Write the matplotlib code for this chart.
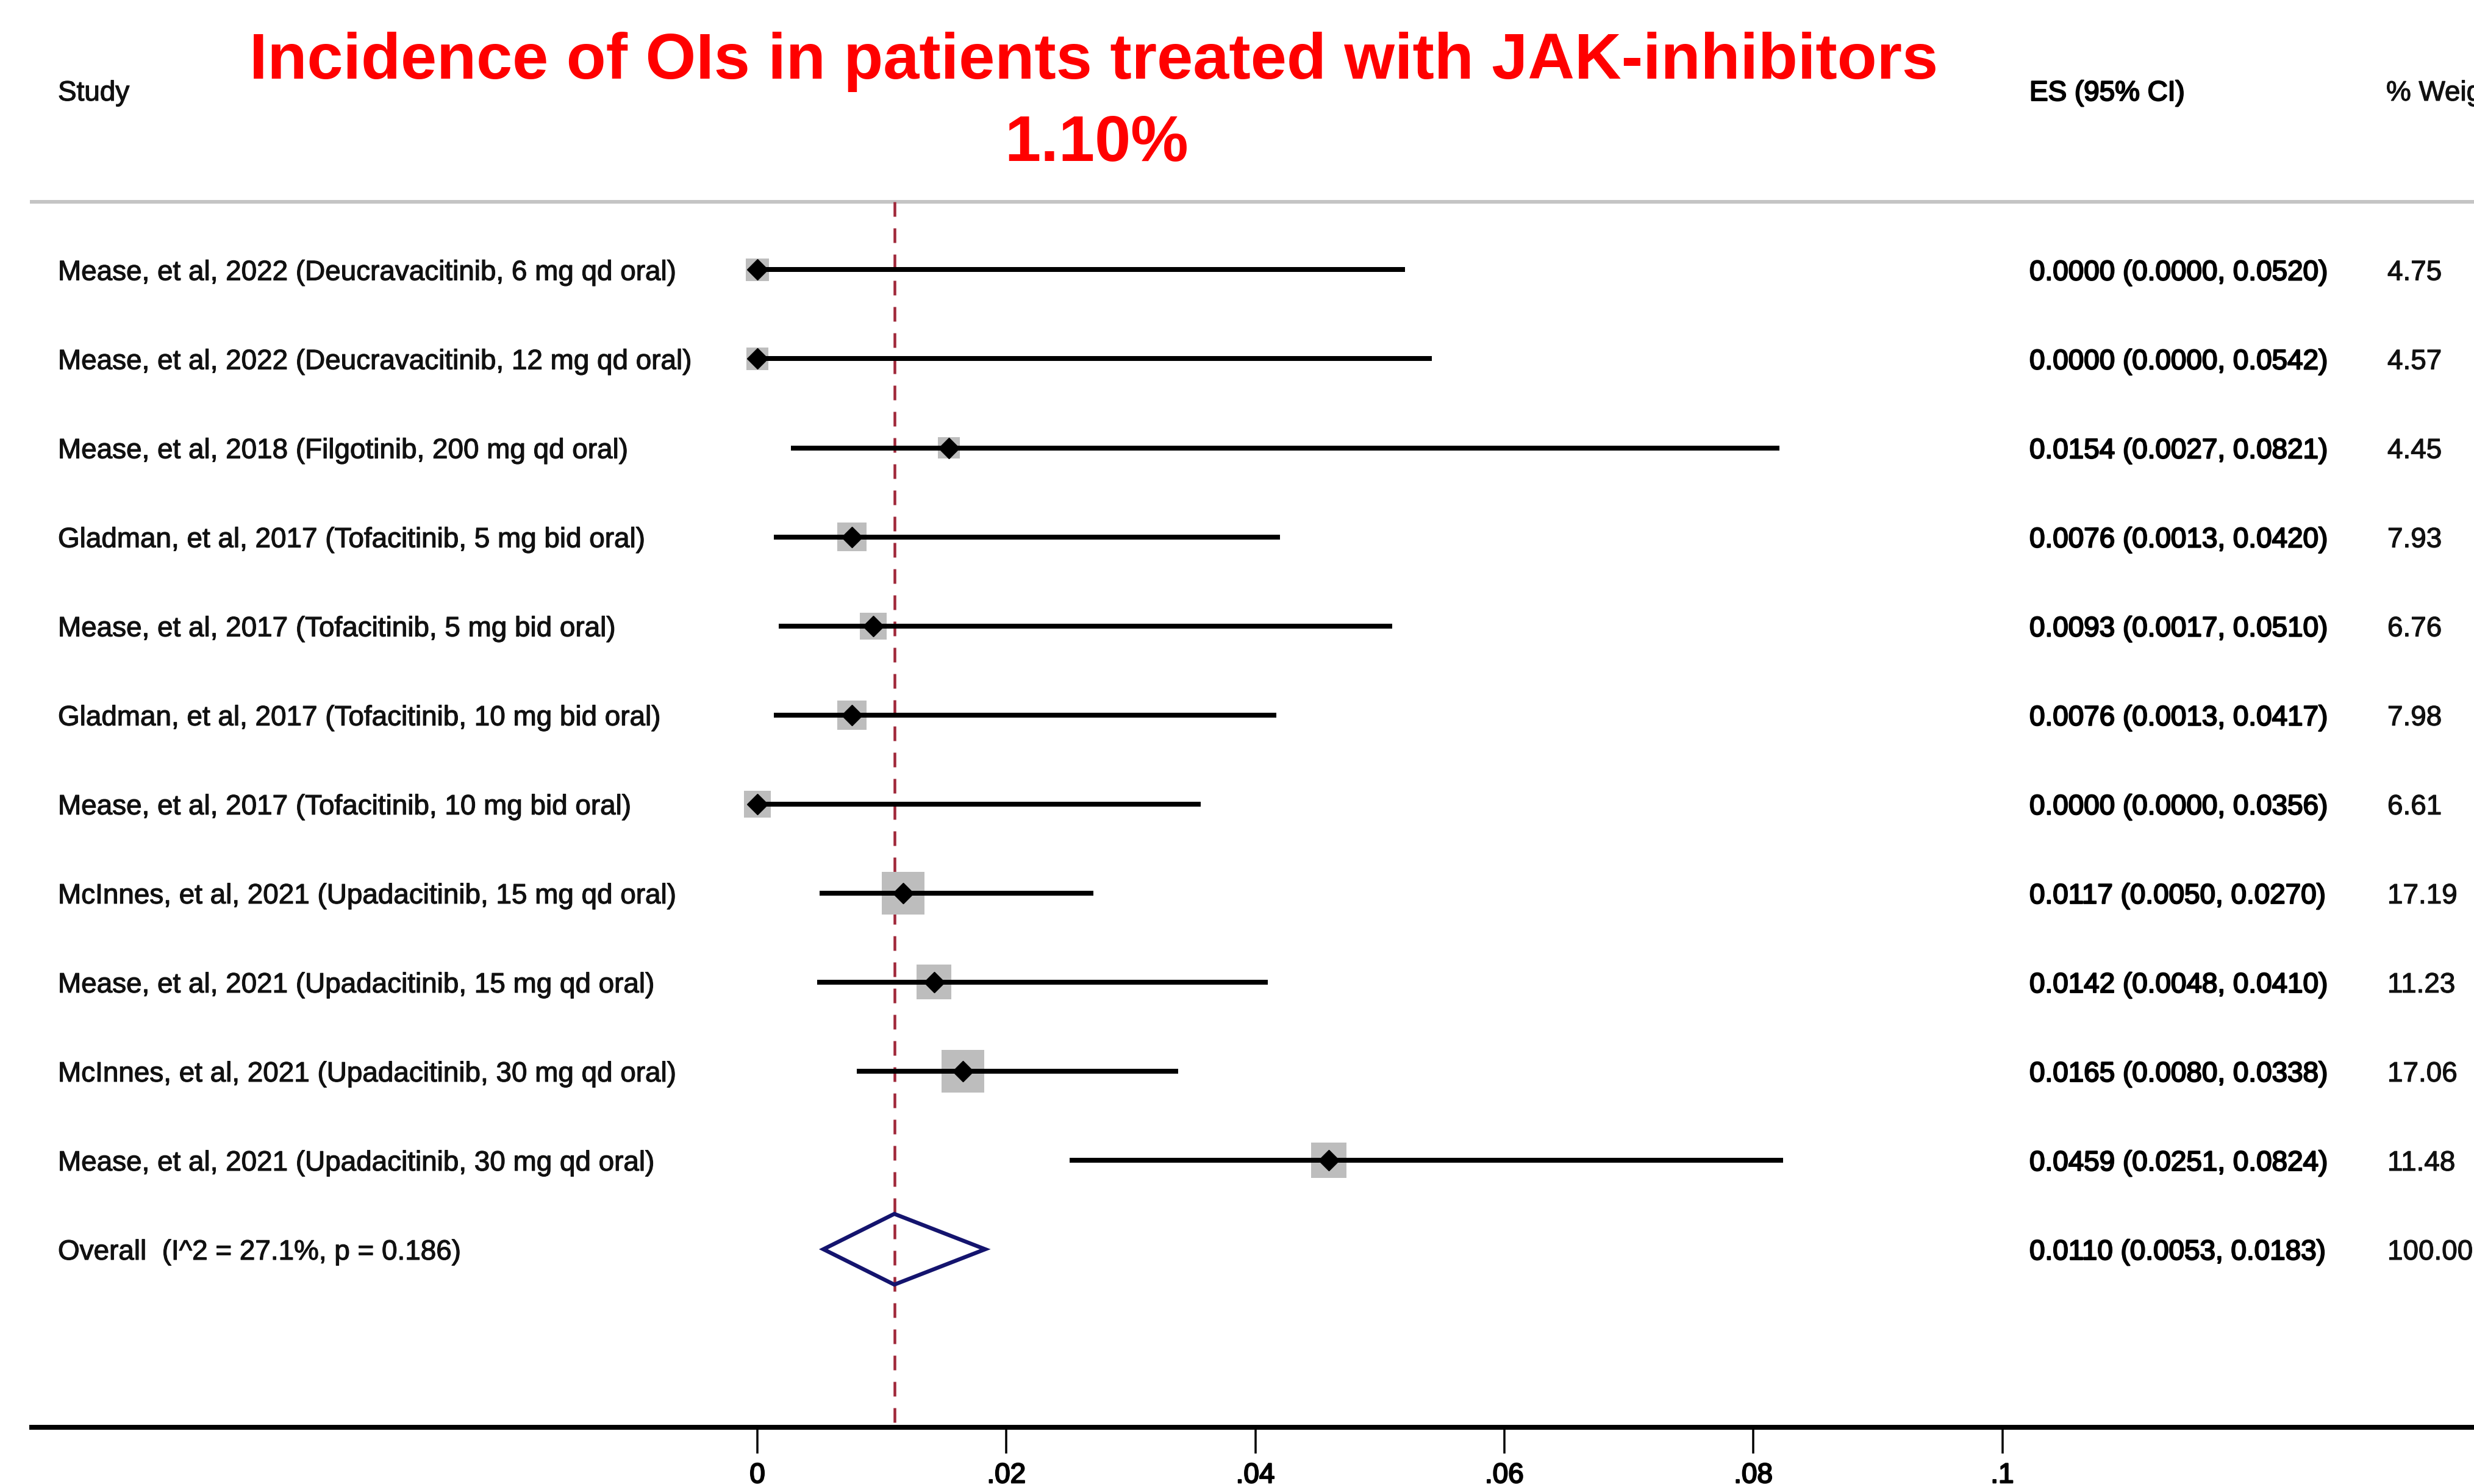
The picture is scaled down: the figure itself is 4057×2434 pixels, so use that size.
import numpy as np
import matplotlib
matplotlib.use('Agg')
import matplotlib.pyplot as plt
import matplotlib.patheffects as pe
from matplotlib.patches import Polygon

plt.rcParams['font.family'] = ['Liberation Sans', 'DejaVu Sans']

# Study data
studies = [
    'Mease, et al, 2022 (Deucravacitinib, 6 mg qd oral)',
    'Mease, et al, 2022 (Deucravacitinib, 12 mg qd oral)',
    'Mease, et al, 2018 (Filgotinib, 200 mg qd oral)',
    'Gladman, et al, 2017 (Tofacitinib, 5 mg bid oral)',
    'Mease, et al, 2017 (Tofacitinib, 5 mg bid oral)',
    'Gladman, et al, 2017 (Tofacitinib, 10 mg bid oral)',
    'Mease, et al, 2017 (Tofacitinib, 10 mg bid oral)',
    'McInnes, et al, 2021 (Upadacitinib, 15 mg qd oral)',
    'Mease, et al, 2021 (Upadacitinib, 15 mg qd oral)',
    'McInnes, et al, 2021 (Upadacitinib, 30 mg qd oral)',
    'Mease, et al, 2021 (Upadacitinib, 30 mg qd oral)',
]
es = [0.0000, 0.0000, 0.0154, 0.0076, 0.0093, 0.0076, 0.0000, 0.0117, 0.0142, 0.0165, 0.0459]
ci_low = [0.0000, 0.0000, 0.0027, 0.0013, 0.0017, 0.0013, 0.0000, 0.0050, 0.0048, 0.0080, 0.0251]
ci_high = [0.0520, 0.0542, 0.0821, 0.0420, 0.0510, 0.0417, 0.0356, 0.0270, 0.0410, 0.0338, 0.0824]
weights = [4.75, 4.57, 4.45, 7.93, 6.76, 7.98, 6.61, 17.19, 11.23, 17.06, 11.48]

overall_label = 'Overall  (I^2 = 27.1%, p = 0.186)'
overall_es = 0.0110
overall_low = 0.0053
overall_high = 0.0183
overall_weight = 100.00

tick_values = [0, 0.02, 0.04, 0.06, 0.08, 0.1]
tick_labels = ['0', '.02', '.04', '.06', '.08', '.1']

title_line1 = 'Incidence of OIs in patients treated with JAK-inhibitors'
title_line2 = '1.10%'

# Layout (pixels in a 4057x2434 canvas)
W, H, DPI = 4057, 2434, 100
x0_px = 1242.0          # where ES = 0 sits
px_per_unit = 20415.0   # pixels per unit of ES
row0_px = 442.4         # centre of first row
row_px = 146.05         # row spacing
pt = 72.0 / DPI         # points per pixel

fig = plt.figure(figsize=(W / DPI, H / DPI), dpi=DPI)
ax = fig.add_axes([0, 0, 1, 1])
ax.set_xlim(-x0_px / px_per_unit, (W - x0_px) / px_per_unit)
ax.set_ylim((H - row0_px) / row_px, -row0_px / row_px)

n = len(studies)
rows = np.arange(n)
overall_row = n
axis_row = n + 2
header_row = -0.763
left_frac = 52.0 / W

# slight stroke so the text has the heavier look of the original
soft = [pe.withStroke(linewidth=0.9, foreground='#111111')]
heavy = [pe.withStroke(linewidth=1.6, foreground='black')]

# Header separator and dashed overall line
ax.axhline(header_row, xmin=left_frac, xmax=1, color='#c4c4c4', lw=6 * pt, zorder=1)
ax.plot([overall_es, overall_es], [header_row, axis_row], color='#a0283a', lw=4.5 * pt,
        dashes=(24 / 4.5, 19 / 4.5), zorder=2)

# Weight boxes, CI lines and point estimates
box_side = 17.0 * np.sqrt(weights) * pt
ax.scatter(es, rows, s=box_side ** 2, marker='s', color='#bdbdbd', linewidths=0, zorder=3)
ax.hlines(rows, ci_low, ci_high, color='black', lw=8 * pt, zorder=4)
ax.plot(es, rows, linestyle='none', marker='D', markersize=17, color='black', zorder=5)

# Overall diamond
half_h = 58.0 / row_px
diamond = Polygon([(overall_low, overall_row), (overall_es, overall_row - half_h),
                   (overall_high, overall_row), (overall_es, overall_row + half_h)],
                  closed=True, fill=False, edgecolor='#14146e', lw=6.5 * pt, zorder=5)
ax.add_patch(diamond)

# Text columns
trans = ax.get_yaxis_transform()
fs = 33
base = 17.0 / row_px
label_x, es_x, w_x = 95.0 / W, 3328.0 / W, 3915.0 / W
for r, name, e, lo, hi, w in zip(rows, studies, es, ci_low, ci_high, weights):
    ax.text(label_x, r + base, name, transform=trans, fontsize=fs, va='baseline',
            color='#111111', path_effects=soft)
    ax.text(es_x, r + base, f'{e:.4f} ({lo:.4f}, {hi:.4f})', transform=trans, fontsize=fs,
            va='baseline', color='black', path_effects=heavy)
    ax.text(w_x, r + base, f'{w:.2f}', transform=trans, fontsize=fs, va='baseline',
            color='#111111', path_effects=soft)

ax.text(label_x, overall_row + base, overall_label, transform=trans, fontsize=fs,
        va='baseline', color='#111111', path_effects=soft)
ax.text(es_x, overall_row + base, f'{overall_es:.4f} ({overall_low:.4f}, {overall_high:.4f})',
        transform=trans, fontsize=fs, va='baseline', color='black', path_effects=heavy)
ax.text(w_x, overall_row + base, f'{overall_weight:.2f}', transform=trans, fontsize=fs,
        va='baseline', color='#111111', path_effects=soft)

# Column headers
hdr = -1.90
ax.text(label_x, hdr, 'Study', transform=trans, fontsize=fs, va='baseline',
        color='#111111', path_effects=soft)
ax.text(es_x, hdr, 'ES (95% CI)', transform=trans, fontsize=fs, va='baseline',
        color='black', path_effects=heavy)
ax.text(3913.0 / W, hdr, '% Weight', transform=trans, fontsize=fs, va='baseline',
        color='#111111', path_effects=soft)

# Title
ax.text(1794.0 / W, (129 - row0_px) / row_px, title_line1, transform=trans, fontsize=76.5,
        fontweight='bold', color='#ff0000', ha='center', va='baseline')
ax.text(1798.0 / W, (264 - row0_px) / row_px, title_line2, transform=trans, fontsize=76.5,
        fontweight='bold', color='#ff0000', ha='center', va='baseline')

# X axis
for side in ['top', 'left', 'right']:
    ax.spines[side].set_visible(False)
ax.spines['bottom'].set_position(('data', axis_row))
ax.spines['bottom'].set_bounds((52 - x0_px) / px_per_unit, (W - x0_px) / px_per_unit)
ax.spines['bottom'].set_linewidth(8 * pt)
ax.set_xticks(tick_values, tick_labels)
ax.tick_params(axis='x', direction='out', length=43 * pt, width=3.5 * pt, labelsize=fs, pad=10)
for lab in ax.get_xticklabels():
    lab.set_path_effects(heavy)
ax.set_yticks([])
ax.patch.set_visible(False)

fig.savefig('out.png', dpi=DPI, facecolor='white')
